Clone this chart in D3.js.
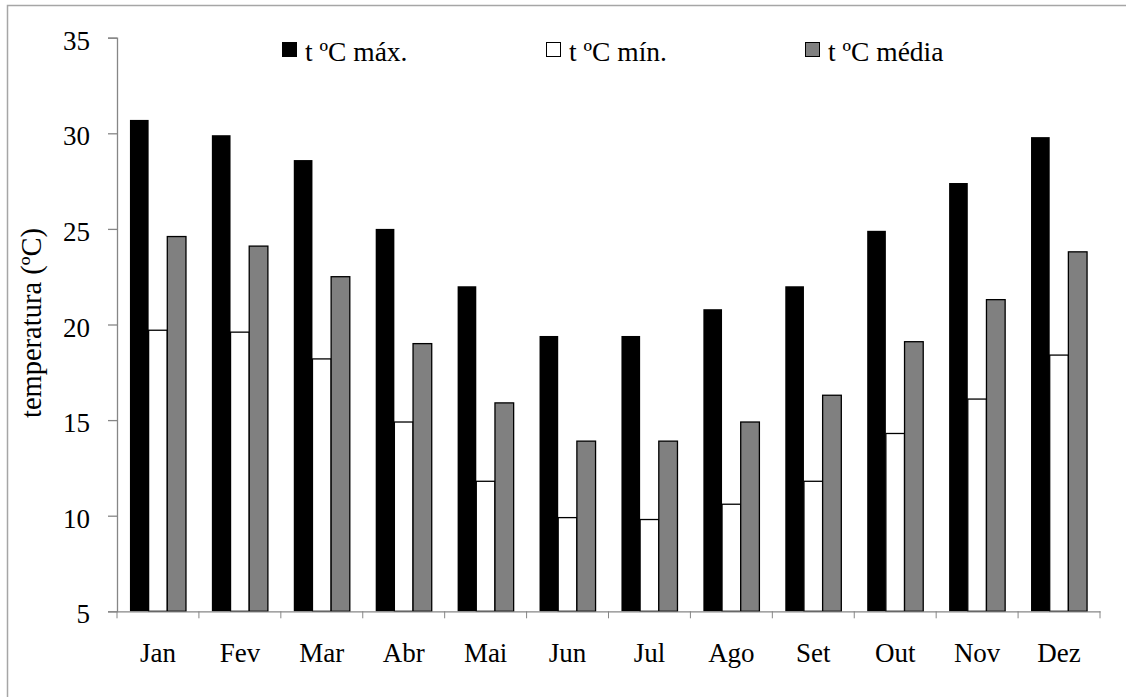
<!DOCTYPE html>
<html>
<head>
<meta charset="utf-8">
<script src="https://cdn.jsdelivr.net/npm/d3@7"></script>
<style>
  body { margin: 0; background: #fff; }
  svg text { font-family: "Liberation Serif", "Times New Roman", serif !important; fill: #000; }
</style>
</head>
<body>
<div id="chart"></div>
<script>
const months = ["Jan", "Fev", "Mar", "Abr", "Mai", "Jun", "Jul", "Ago", "Set", "Out", "Nov", "Dez"];
const seriesNames = ["t ºC máx.", "t ºC mín.", "t ºC média"];
const tMax = [30.7, 29.9, 28.6, 25.0, 22.0, 19.4, 19.4, 20.8, 22.0, 24.9, 27.4, 29.8];
const tMin = [19.7, 19.6, 18.2, 14.9, 11.8, 9.9, 9.8, 10.6, 11.8, 14.3, 16.1, 18.4];
const tMed = [24.6, 24.1, 22.5, 19.0, 15.9, 13.9, 13.9, 14.9, 16.3, 19.1, 21.3, 23.8];
const yTicks = [5, 10, 15, 20, 25, 30, 35];

const width = 1126;
const height = 697;
const serif = "'Liberation Serif', 'Times New Roman', serif";
const axisColor = "#868686";
const fills = ["#000000", "#ffffff", "#808080"];

const svg = d3.select("#chart").append("svg")
    .attr("width", width)
    .attr("height", height)
    .attr("font-family", serif);

// outer chart border (only top/left visible in the frame)
svg.append("rect")
    .attr("x", 7.5).attr("y", 5.5)
    .attr("width", 1130).attr("height", 700)
    .attr("fill", "none")
    .attr("stroke", "#a6a6a6")
    .attr("stroke-width", 1.5);

const x0 = d3.scaleBand().domain(months).range([117, 1100]);
const gap = x0.bandwidth() * 0.158;
const x1 = d3.scaleBand().domain(seriesNames).range([gap, x0.bandwidth() - gap]);
const y = d3.scaleLinear().domain([5, 35]).range([611.3, 37.7]);

const values = [tMax, tMin, tMed];
const rows = [];
months.forEach((m, i) => {
    seriesNames.forEach((s, j) => rows.push({ month: m, series: s, idx: j, value: values[j][i] }));
});

// bars
svg.append("g").selectAll("rect")
    .data(rows)
    .enter().append("rect")
    .attr("x", d => x0(d.month) + x1(d.series))
    .attr("y", d => y(d.value))
    .attr("width", x1.bandwidth())
    .attr("height", d => y(5) - y(d.value))
    .attr("fill", d => fills[d.idx])
    .attr("stroke", d => d.idx === 0 ? "none" : "#000")
    .attr("stroke-width", 1.3);

// y axis
const yAxis = svg.append("g")
    .attr("transform", "translate(117,0)")
    .call(d3.axisLeft(y).tickValues(yTicks).tickSize(9).tickPadding(18));
yAxis.attr("font-family", serif).attr("font-size", 27);
yAxis.selectAll("text").attr("dy", "0.43em");

// x axis: labels centered, ticks at category boundaries
const xAxis = svg.append("g")
    .attr("transform", "translate(0,611.3)")
    .call(d3.axisBottom(x0).tickSize(0).tickPadding(32));
xAxis.attr("font-family", serif).attr("font-size", 27);
xAxis.selectAll(".tickline")
    .data(months.map(m => x0(m)).concat([x0.range()[1]]))
    .enter().append("line")
    .attr("class", "tickline")
    .attr("x1", d => d).attr("x2", d => d)
    .attr("y1", 0).attr("y2", 7)
    .attr("stroke", axisColor);

svg.selectAll(".domain, .tick line").attr("stroke", axisColor).attr("stroke-width", 1.3);

// y title
svg.append("text")
    .attr("transform", "translate(41,323) rotate(-90)")
    .attr("text-anchor", "middle")
    .attr("font-size", 28.5)
    .text("temperatura (ºC)");

// legend
const legendX = [282, 546, 805];
const legend = svg.append("g").selectAll("g")
    .data(seriesNames)
    .enter().append("g")
    .attr("transform", (d, i) => "translate(" + legendX[i] + ",42)");
legend.append("rect")
    .attr("x", 0.5).attr("y", 0.5)
    .attr("width", 14).attr("height", 14)
    .attr("fill", (d, i) => fills[i])
    .attr("stroke", "#000")
    .attr("stroke-width", 1);
legend.append("text")
    .attr("x", 23)
    .attr("y", 18.5)
    .attr("font-size", 27.5)
    .text(d => d);

svg.selectAll("text").style("font-family", serif);
</script>
</body>
</html>
